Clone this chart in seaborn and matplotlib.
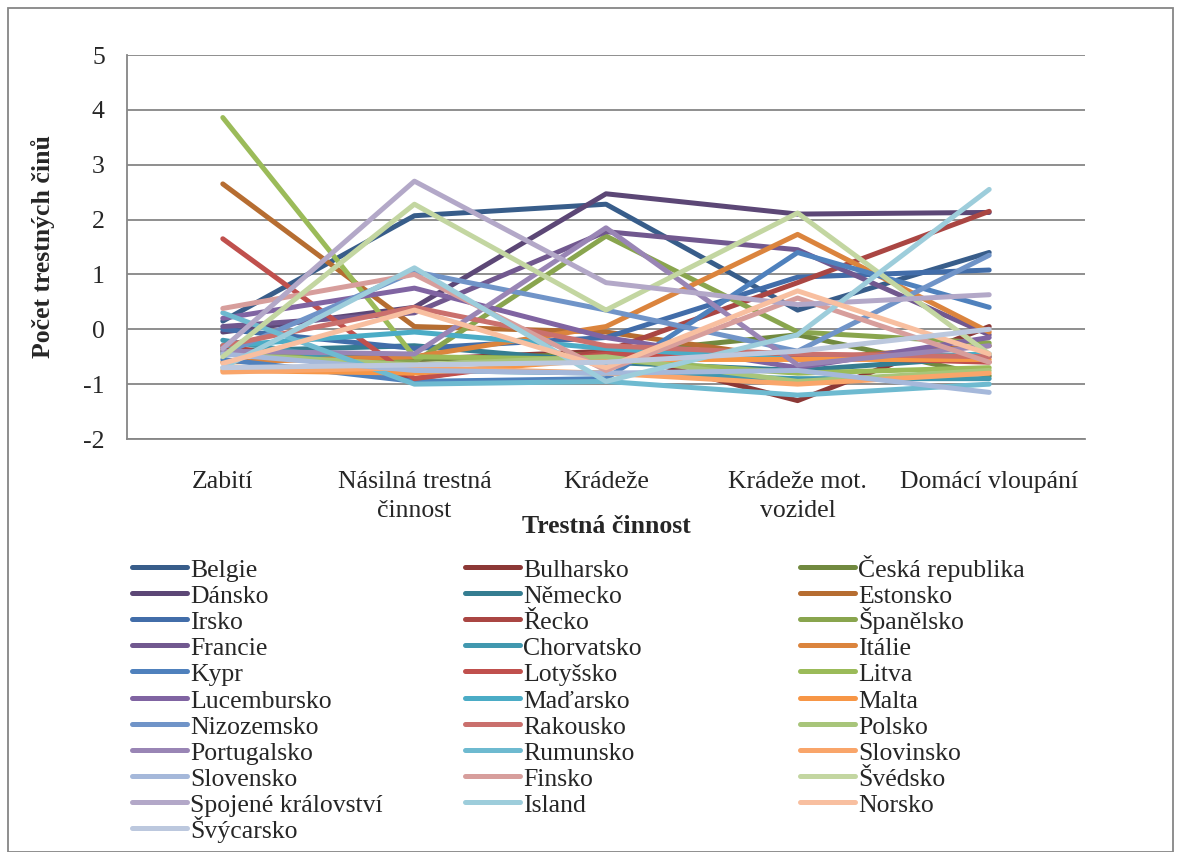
import pandas as pd
import matplotlib
matplotlib.use('Agg')
import matplotlib.pyplot as plt
import matplotlib.patches as patches
from matplotlib.lines import Line2D
import seaborn as sns

# Categories (crime types) and country series
categories = ['Zabití', 'Násilná trestná\nčinnost', 'Krádeže', 'Krádeže mot.\nvozidel', 'Domácí vloupání']

countries = ['Belgie', 'Bulharsko', 'Česká republika', 'Dánsko', 'Německo', 'Estonsko',
             'Irsko', 'Řecko', 'Španělsko', 'Francie', 'Chorvatsko', 'Itálie',
             'Kypr', 'Lotyšsko', 'Litva', 'Lucembursko', 'Maďarsko', 'Malta',
             'Nizozemsko', 'Rakousko', 'Polsko', 'Portugalsko', 'Rumunsko', 'Slovinsko',
             'Slovensko', 'Finsko', 'Švédsko', 'Spojené království', 'Island', 'Norsko',
             'Švýcarsko']

values = [
    [0.15, 2.07, 2.28, 0.35, 1.40],     # Belgie
    [-0.35, -0.55, -0.40, -1.30, 0.05],  # Bulharsko
    [-0.45, -0.55, -0.45, -0.10, -0.85], # Česká republika
    [-0.05, 0.40, 2.47, 2.10, 2.13],     # Dánsko
    [-0.40, -0.30, -0.60, -0.75, -0.50], # Německo
    [2.65, 0.05, -0.05, -0.55, -0.30],   # Estonsko
    [0.00, -0.35, -0.15, 0.95, 1.08],    # Irsko
    [-0.30, -0.90, -0.40, 0.85, 2.15],   # Řecko
    [-0.40, -0.60, 1.70, -0.05, -0.25],  # Španělsko
    [0.05, 0.30, 1.78, 1.45, -0.10],     # Francie
    [-0.20, -0.75, -0.80, -0.90, -0.90], # Chorvatsko
    [-0.60, -0.50, 0.05, 1.73, -0.05],   # Itálie
    [-0.55, -0.95, -0.90, 1.40, 0.40],   # Kypr
    [1.65, -0.90, -0.45, -0.50, -0.60],  # Lotyšsko
    [3.86, -0.50, -0.55, -0.80, -0.70],  # Litva
    [0.20, 0.75, -0.15, -0.70, -0.15],   # Lucembursko
    [-0.30, -0.05, -0.35, -0.55, -0.45], # Maďarsko
    [-0.75, -0.80, -0.55, -0.55, -0.55], # Malta
    [-0.45, 1.05, 0.35, -0.40, 1.35],    # Nizozemsko
    [-0.30, 0.40, -0.30, -0.45, -0.50],  # Rakousko
    [-0.45, -0.65, -0.50, -0.95, -0.75], # Polsko
    [-0.40, -0.45, 1.85, -0.65, -0.30],  # Portugalsko
    [0.30, -1.00, -0.95, -1.20, -1.00],  # Rumunsko
    [-0.78, -0.70, -0.80, -1.00, -0.80], # Slovinsko
    [-0.45, -0.75, -0.80, -0.75, -1.15], # Slovensko
    [0.38, 1.00, -0.75, 0.57, -0.60],    # Finsko
    [-0.50, 2.28, 0.35, 2.12, -0.45],    # Švédsko
    [-0.35, 2.70, 0.85, 0.45, 0.63],     # Spojené království
    [-0.70, 1.12, -0.95, -0.10, 2.55],   # Island
    [-0.62, 0.35, -0.70, 0.70, -0.45],   # Norsko
    [-0.70, -0.65, -0.60, -0.40, 0.00],  # Švýcarsko
]

colors = ['#385D8A', '#8C3836', '#71893F', '#5C4776', '#357D91', '#B66D31',
          '#426DA9', '#AA4643', '#89A54E', '#71588F', '#4198AF', '#DB843D',
          '#4F81BD', '#C0504D', '#9BBB59', '#8064A2', '#4BACC6', '#F79646',
          '#7094C8', '#CA706D', '#A8C57A', '#9985B5', '#6EBAD0', '#F9A56A',
          '#A5B8DA', '#D79E9C', '#C3D6A1', '#B3A8C8', '#9DCDDB', '#F8BFA0',
          '#BCC8DE']

rows = []
for c, vals in zip(countries, values):
    for cat, v in zip(categories, vals):
        rows.append({'Země': c, 'Trestná činnost': cat, 'Počet': v})
df = pd.DataFrame(rows)

sns.set_style('white')
plt.rcParams['font.family'] = ['Liberation Serif', 'DejaVu Serif']
plt.rcParams['axes.unicode_minus'] = False

fs = 18.5
W, H = 1181, 852
fig = plt.figure(figsize=(W / 100, H / 100), dpi=100)
ax = fig.add_axes([127 / W, 1 - 439 / H, (1085 - 127) / W, (439 - 55) / H])

sns.lineplot(data=df, x='Trestná činnost', y='Počet', hue='Země', hue_order=countries,
             palette=colors, sort=False, linewidth=3.6, legend=False, ax=ax)

ax.set_xlim(-0.5, 4.5)
ax.set_ylim(-2, 5)
ax.set_yticks(range(-2, 6))
ax.set_yticklabels([str(t) for t in range(-2, 6)], fontsize=fs)
ax.set_xticks(range(5))
ax.set_xticklabels(categories, fontsize=fs, linespacing=1.4)
ax.set_xticks([i - 0.5 for i in range(6)], minor=True)
ax.tick_params(axis='x', which='major', length=0, pad=23)
ax.tick_params(axis='x', which='minor', length=7, width=1.2, color='#868686', direction='out')
ax.tick_params(axis='y', length=6, width=1.2, color='#868686', direction='out', pad=10)
ax.grid(axis='y', color='#868686', linewidth=1.3)
ax.set_axisbelow(True)
for s in ['top', 'right']:
    ax.spines[s].set_visible(False)
for s in ['left', 'bottom']:
    ax.spines[s].set_color('#868686')
    ax.spines[s].set_linewidth(1.3)

ax.set_xlabel('Trestná činnost', fontsize=fs, fontweight='bold', labelpad=-5)
ax.set_ylabel('Počet trestných činů', fontsize=fs, fontweight='bold', labelpad=20)

# legend: three columns filled row by row
col_x = [132, 465, 800]
for i, (name, col) in enumerate(zip(countries, colors)):
    r, c = divmod(i, 3)
    x0 = col_x[c]
    yh = 567 + 26.1 * r
    yb = 577 + 26.1 * r
    fig.add_artist(Line2D([x0 / W, (x0 + 55) / W], [1 - yh / H, 1 - yh / H],
                          transform=fig.transFigure, color=col, linewidth=3.6,
                          solid_capstyle='round'))
    fig.text((x0 + 58) / W, 1 - yb / H, name, fontsize=fs, va='baseline', ha='left')

# chart border
fig.patches.append(patches.Rectangle((8 / W, 0), 1165 / W, 1 - 8 / H,
                                     transform=fig.transFigure, fill=False,
                                     edgecolor='#868686', linewidth=1.3))

fig.savefig('out.png', dpi=100)
